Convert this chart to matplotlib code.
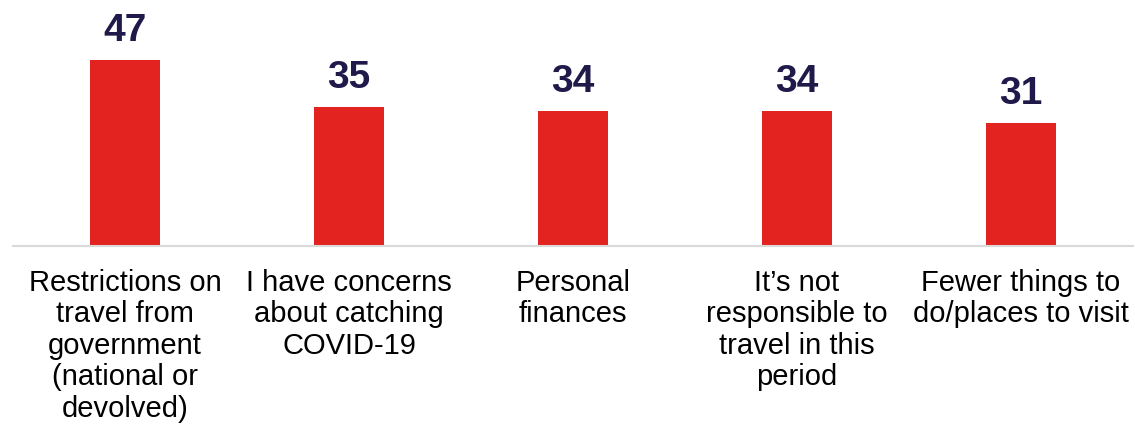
import matplotlib
matplotlib.use("Agg")
import matplotlib.pyplot as plt

categories = [
    "Restrictions on\ntravel from\ngovernment\n(national or\ndevolved)",
    "I have concerns\nabout catching\nCOVID-19",
    "Personal\nfinances",
    "It\u2019s not\nresponsible to\ntravel in this\nperiod",
    "Fewer things to\ndo/places to visit",
]
values = [47, 35, 34, 34, 31]

plt.rcParams['font.family'] = ['Liberation Sans', 'DejaVu Sans']

fig = plt.figure(figsize=(11.35, 4.3), dpi=100)
ax = fig.add_axes([13/1135, 184/430, 1120/1135, 246/430])

x = list(range(len(values)))
bars = ax.bar(x, values, width=70/224, color='#E3231F', edgecolor='none')
ax.set_xlim(-0.5, len(values) - 0.5)
ax.set_ylim(0, 246/3.96)

for xi, v in zip(x, values):
    ax.annotate(str(v), xy=(xi, v), xytext=(0, 13.7), textcoords='offset points',
                ha='center', va='baseline', fontsize=28, fontweight='bold',
                color='#1F1A4A')

ax.set_xticks(x)
ax.set_xticklabels(categories, fontsize=21, color='#000000', linespacing=1.16)
ax.tick_params(axis='x', length=0, pad=16.5)
ax.set_yticks([])
for s in ['top', 'right', 'left']:
    ax.spines[s].set_visible(False)
ax.spines['bottom'].set_color('#D9D9D9')
ax.spines['bottom'].set_linewidth(1.5)

fig.savefig('out.png', dpi=100)
